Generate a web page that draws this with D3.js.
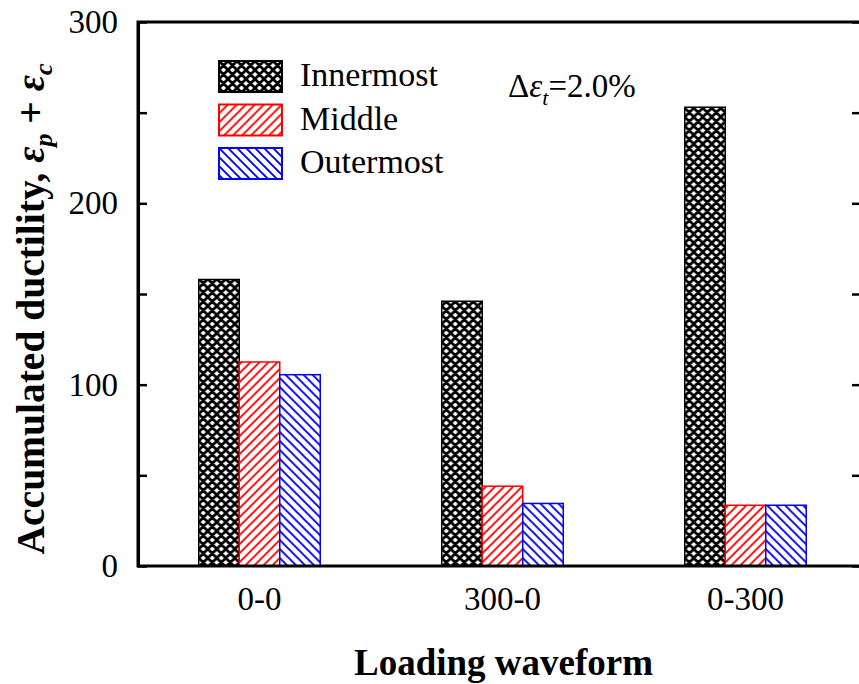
<!DOCTYPE html>
<html>
<head>
<meta charset="utf-8">
<script src="https://cdn.jsdelivr.net/npm/d3@7"></script>
<style>
  body { margin: 0; background: #fff; }
  svg { display: block; }
</style>
</head>
<body>
<div id="chart"></div>
<script>
// data
const categories = ["0-0", "300-0", "0-300"];
const seriesNames = ["Innermost", "Middle", "Outermost"];
const innermost = [158, 146, 253];
const middle = [112.5, 44, 33.5];
const outermost = [105.5, 34.5, 33.5];
const majorTicks = [0, 100, 200, 300];
const minorTicks = [50, 150, 250];

const width = 859, height = 684;
const plotLeft = 138, plotTop = 22, plotBottom = 566, plotRight = 861;
const serif = "Liberation Serif";

const svg = d3.select("#chart").append("svg")
    .attr("width", width)
    .attr("height", height)
    .style("font-family", serif);

// hatch patterns
const defs = svg.append("defs");
const colors = { Innermost: "#000", Middle: "#ff0000", Outermost: "#0000ff" };

const pCross = defs.append("pattern")
    .attr("id", "hatch-Innermost")
    .attr("patternUnits", "userSpaceOnUse")
    .attr("width", 9).attr("height", 9);
pCross.append("rect").attr("width", 9).attr("height", 9).attr("fill", "#fff");
pCross.append("path")
    .attr("d", "M-1,1 L1,-1 M0,9 L9,0 M8,10 L10,8 M-1,8 L1,10 M0,0 L9,9 M8,-1 L10,1")
    .attr("stroke", "#000").attr("stroke-width", 2.8);

const pMid = defs.append("pattern")
    .attr("id", "hatch-Middle")
    .attr("patternUnits", "userSpaceOnUse")
    .attr("width", 9).attr("height", 9);
pMid.append("rect").attr("width", 9).attr("height", 9).attr("fill", "#fff");
pMid.append("path")
    .attr("d", "M-1,1 L1,-1 M0,9 L9,0 M8,10 L10,8")
    .attr("stroke", colors.Middle).attr("stroke-width", 1.9);

const pOut = defs.append("pattern")
    .attr("id", "hatch-Outermost")
    .attr("patternUnits", "userSpaceOnUse")
    .attr("width", 9).attr("height", 9);
pOut.append("rect").attr("width", 9).attr("height", 9).attr("fill", "#fff");
pOut.append("path")
    .attr("d", "M-1,8 L1,10 M0,0 L9,9 M8,-1 L10,1")
    .attr("stroke", colors.Outermost).attr("stroke-width", 1.9);

// scales
const y = d3.scaleLinear().domain([0, 300]).range([plotBottom, plotTop]);
const x0 = d3.scaleBand().domain(categories).range([plotLeft, 867])
    .paddingInner(0.5).paddingOuter(0.25);
const x1 = d3.scaleBand().domain(seriesNames).range([0, x0.bandwidth()]);

const rows = categories.map((c, i) => ({
    cat: c,
    values: [
        { name: "Innermost", v: innermost[i] },
        { name: "Middle", v: middle[i] },
        { name: "Outermost", v: outermost[i] }
    ]
}));

// bars
svg.append("g")
    .selectAll("g")
    .data(rows)
    .join("g")
    .attr("transform", d => `translate(${x0(d.cat)},0)`)
    .selectAll("rect")
    .data(d => d.values)
    .join("rect")
    .attr("x", d => x1(d.name))
    .attr("y", d => y(d.v))
    .attr("width", x1.bandwidth())
    .attr("height", d => y(0) - y(d.v))
    .attr("fill", d => `url(#hatch-${d.name})`)
    .attr("stroke", d => colors[d.name])
    .attr("stroke-width", 1.5);

// axes
const fontSize = "33px";

const yAxis = svg.append("g")
    .attr("transform", `translate(${plotLeft},0)`)
    .call(d3.axisLeft(y).tickValues(majorTicks).tickSizeInner(-9).tickSizeOuter(0).tickPadding(20));
yAxis.attr("font-family", serif);
yAxis.selectAll("text").style("font-size", fontSize).style("font-family", serif);

svg.append("g")
    .attr("transform", `translate(${plotLeft},0)`)
    .call(d3.axisLeft(y).tickValues(minorTicks).tickSizeInner(-9).tickSizeOuter(0).tickFormat(""));

svg.append("g")
    .attr("transform", `translate(${plotRight},0)`)
    .call(d3.axisRight(y).tickValues(majorTicks.concat(minorTicks)).tickSizeInner(-9).tickSizeOuter(0).tickFormat(""));

const xAxis = svg.append("g")
    .attr("transform", `translate(0,${plotBottom})`)
    .call(d3.axisBottom(x0).tickSize(0).tickPadding(21));
xAxis.attr("font-family", serif);
xAxis.selectAll("text").style("font-size", fontSize).style("font-family", serif);
xAxis.select(".domain").remove();

svg.selectAll(".domain").attr("stroke-width", 3);
svg.selectAll(".tick line").attr("stroke-width", 2.5);

// frame
svg.append("rect")
    .attr("x", plotLeft).attr("y", plotTop)
    .attr("width", plotRight - plotLeft).attr("height", plotBottom - plotTop)
    .attr("fill", "none")
    .attr("stroke", "#000")
    .attr("stroke-width", 3);

// axis titles
svg.append("text")
    .attr("x", (352 + 655) / 2)
    .attr("y", 675)
    .attr("text-anchor", "middle")
    .style("font-family", serif)
    .style("font-size", "37px")
    .style("font-weight", "bold")
    .text("Loading waveform");

const yt = svg.append("text")
    .attr("transform", "translate(44,309) rotate(-90)")
    .attr("text-anchor", "middle")
    .style("font-family", serif)
    .style("font-size", "39.5px")
    .style("font-weight", "bold");
yt.append("tspan").text("Accumulated ductility, ");
yt.append("tspan").style("font-style", "italic").text("ε");
yt.append("tspan").style("font-style", "italic").style("font-size", "26px").attr("dy", 8).text("p");
yt.append("tspan").attr("dy", -8).text(" + ");
yt.append("tspan").style("font-style", "italic").text("ε");
yt.append("tspan").style("font-style", "italic").style("font-size", "26px").attr("dy", 8).text("c");

// legend
const legend = svg.append("g")
    .selectAll("g")
    .data(seriesNames)
    .join("g")
    .attr("transform", (d, i) => `translate(219,${61 + i * 43.5})`);
legend.append("rect")
    .attr("width", 63).attr("height", 31)
    .attr("fill", d => `url(#hatch-${d})`)
    .attr("stroke", d => colors[d])
    .attr("stroke-width", 2);
legend.append("text")
    .attr("x", 81).attr("y", 25)
    .style("font-family", serif)
    .style("font-size", "34px")
    .text(d => d);

// annotation
const ann = svg.append("text")
    .attr("x", 508).attr("y", 97)
    .style("font-family", serif)
    .style("font-size", "33px");
ann.append("tspan").text("Δ");
ann.append("tspan").style("font-style", "italic").text("ε");
ann.append("tspan").style("font-style", "italic").style("font-size", "22px").attr("dy", 8).text("t");
ann.append("tspan").attr("dy", -8).text("=2.0%");
</script>
</body>
</html>
